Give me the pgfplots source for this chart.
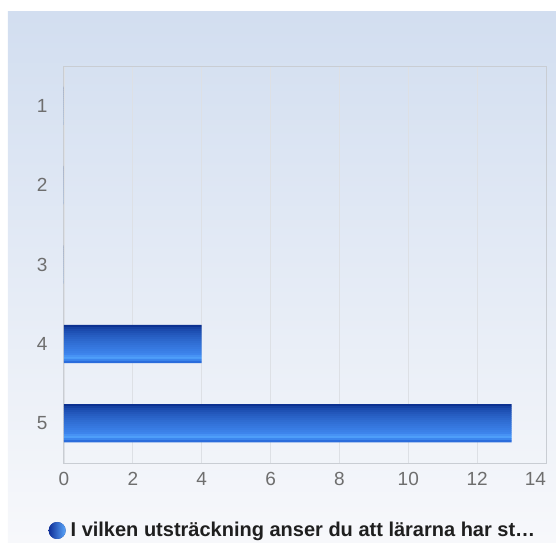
\documentclass[border=0pt]{standalone}
\usepackage{fontspec}
\setmainfont{Liberation Sans}
\usepackage{pgfplots}
\usepackage{pgfplotstable}
\pgfplotsset{compat=1.18}
\definecolor{bgtop}{HTML}{D2DEF0}
\definecolor{bgbot}{HTML}{F7F8FB}
\definecolor{gridc}{HTML}{DDE0E5}
\definecolor{framec}{HTML}{C9CDD3}
\definecolor{tickc}{HTML}{6E6E6E}
\definecolor{bTop}{HTML}{0B3090}
\definecolor{bMid}{HTML}{3D84EC}
\definecolor{stripe15}{HTML}{4792F4}
\definecolor{stripe16}{HTML}{4E9EF9}
\definecolor{stripe17}{HTML}{3C86EE}
\definecolor{stripe18}{HTML}{2A6CDC}
\definecolor{legL}{HTML}{0F2F98}
\definecolor{legR}{HTML}{5AA6FA}
% category 1 at y=5 ... category 5 at y=1
\pgfplotstableread{
pos value
5 0
4 0
3 0
2 4
1 13
}\data
\begin{document}
\begin{tikzpicture}
\useasboundingbox (-64pt,-79pt) rectangle (492pt,463pt);
\shade[top color=bgtop, bottom color=bgbot] (-56pt,-79pt) rectangle (492pt,451pt);
\begin{axis}[
  at={(0,0)}, anchor=south west,
  scale only axis,
  width=482pt, height=397pt,
  xmin=0, xmax=14, ymin=0.5, ymax=5.5,
  xtick={0,2,...,14}, ytick={1,2,3,4,5},
  xticklabels={0,2,4,6,8,10,12,\makebox[0pt][r]{14}},
  yticklabels={5,4,3,2,1},
  xmajorgrids, major grid style={gridc, line width=0.8pt},
  major tick length=0pt,
  axis line style={framec, line width=1pt},
  tick label style={font=\fontsize{19}{22}\selectfont, text=tickc},
  /pgf/number format/assume math mode=true,
  yticklabel style={xshift=-13pt},
  xticklabel style={yshift=-6pt},
  legend style={at={(0.475,-0.17)}, anchor=center, draw=none, fill=none,
    font=\fontsize{20}{24}\selectfont\bfseries, text=black!88},
  legend image code/.code={\shade[left color=legL, right color=legR] (0.3cm,0) circle (8.5pt);},
]
\pgfplotsinvokeforeach{0,...,18}{%
  \ifnum#1<15
    \pgfmathtruncatemacro\p{100*(#1/14)^0.6}%
    \colorlet{stripe#1}{bMid!\p!bTop}%
  \fi
  \addplot[xbar, bar width=2.3pt, bar shift={(18-2*#1)*1pt}, fill=stripe#1, draw=none,
    \ifnum#1>0 forget plot\fi]
    table[x=value, y=pos] {\data};
}
\addlegendentry{\hspace{3pt}I vilken utsträckning anser du att lärarna har st…}
\end{axis}
\end{tikzpicture}
\end{document}
